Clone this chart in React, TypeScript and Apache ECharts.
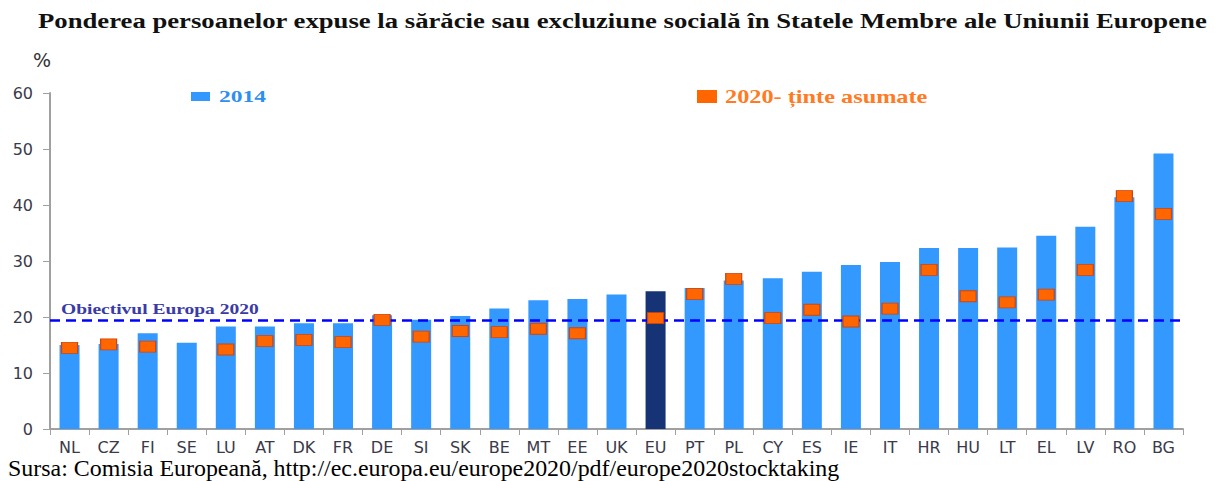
import React, { useEffect, useRef } from "react";
import * as echarts from "echarts";

const categories = ["NL","CZ","FI","SE","LU","AT","DK","FR","DE","SI","SK","BE","MT","EE","UK","EU","PT","PL","CY","ES","IE","IT","HR","HU","LT","EL","LV","RO","BG"];
const values2014 = [15.0,15.2,17.1,15.4,18.3,18.3,18.9,18.9,20.3,19.5,20.2,21.5,23.0,23.2,24.0,24.6,25.2,26.5,26.9,28.1,29.3,29.8,32.3,32.3,32.4,34.5,36.1,41.4,49.2];
const targets2020: (number | null)[] = [14.5,15.1,14.7,null,14.2,15.7,15.9,15.5,19.5,16.5,17.5,17.3,17.9,17.1,null,19.8,24.1,26.8,19.8,21.3,19.2,21.5,28.4,23.7,22.6,24.0,28.4,41.6,38.4];
const yTicks = [0, 10, 20, 30, 40, 50, 60];
const objective2020 = 19.4;
const highlight = "EU";
const seriesNames = ["2014", "2020- ținte asumate"];

export default function App() {
  const ref = useRef<HTMLDivElement>(null);
  useEffect(() => {
    if (!ref.current) return;
    const chart = echarts.init(ref.current, null, { renderer: "svg" });
    const serif = "'Liberation Serif', 'Times New Roman', serif";
    const sans = "'DejaVu Sans', Verdana, sans-serif";
    const txt = (
      text: string,
      x: number,
      y: number,
      size: number,
      scaleX: number,
      fill: string,
      bold: boolean,
      family: string
    ) => ({
      type: "text",
      x,
      y,
      scaleX,
      silent: true,
      style: {
        text,
        x: 0,
        y: 0,
        fontFamily: family,
        fontWeight: bold ? "bold" : "normal",
        fontSize: size,
        fill,
        align: "left",
        verticalAlign: "middle",
        textAlign: "left",
        textVerticalAlign: "middle",
      },
    });
    chart.setOption({
      animation: false,
      backgroundColor: "#ffffff",
      grid: { left: 50, right: 34, top: 93, bottom: 52, containLabel: false },
      xAxis: {
        type: "category",
        data: categories,
        axisLine: { lineStyle: { color: "#a0a0a0", width: 2 } },
        axisTick: { show: true, length: 6, lineStyle: { color: "#a0a0a0" } },
        axisLabel: { interval: 0, margin: 10, fontFamily: sans, fontSize: 16, color: "#3a3a4a" },
      },
      yAxis: {
        type: "value",
        min: 0,
        max: 60,
        interval: 10,
        axisLine: { show: true, lineStyle: { color: "#a0a0a0", width: 2 } },
        axisTick: { show: true, length: 7, lineStyle: { color: "#a0a0a0" } },
        splitLine: { show: false },
        axisLabel: { margin: 17, fontFamily: sans, fontSize: 16, color: "#3a3a4a", formatter: (v: number) => (yTicks.includes(v) ? String(v) : "") },
      },
      graphic: [
        txt("Ponderea persoanelor expuse la sărăcie sau excluziune socială în Statele Membre ale Uniunii Europene", 38, 20.5, 22, 1.214, "#111111", true, serif),
        txt("%", 33, 60, 19, 1.0, "#333333", false, sans),
        { type: "rect", x: 191, y: 92, shape: { width: 19, height: 9 }, style: { fill: "#3399ff" }, silent: true },
        txt(seriesNames[0], 219, 96, 16, 1.47, "#2f8ff0", true, serif),
        { type: "rect", x: 697, y: 90, shape: { width: 20, height: 13 }, style: { fill: "#ff6600" }, silent: true },
        txt(seriesNames[1], 725, 97, 18, 1.35, "#ff7a22", true, serif),
        txt("Obiectivul Europa 2020", 61, 309, 15, 1.3, "#3a3aa8", true, serif),
        txt("Sursa: Comisia Europeană, http://ec.europa.eu/europe2020/pdf/europe2020stocktaking", 8, 468, 23, 1.04, "#000000", false, serif),
      ],
      series: [
        {
          name: seriesNames[0],
          type: "bar",
          barWidth: 20,
          itemStyle: { color: "#3399ff" },
          data: values2014.map((v, i) =>
            categories[i] === highlight ? { value: v, itemStyle: { color: "#153375" } } : v
          ),
          markLine: {
            silent: true,
            symbol: "none",
            label: { show: false },
            lineStyle: { color: "#0000ff", type: [10, 6], width: 2.5 },
            data: [{ yAxis: objective2020 }],
          },
          z: 2,
        },
        {
          name: seriesNames[1],
          type: "scatter",
          symbol: "rect",
          symbolSize: [16, 11],
          itemStyle: { color: "#ff6600", borderColor: "#cc4411", borderWidth: 1, opacity: 1 },
          data: targets2020.map((v) => (v === null ? "-" : v)),
          z: 5,
        },
      ],
    });
    return () => chart.dispose();
  }, []);
  return <div ref={ref} style={{ position: "absolute", left: 0, top: 0, width: 1217, height: 481 }} />;
}
